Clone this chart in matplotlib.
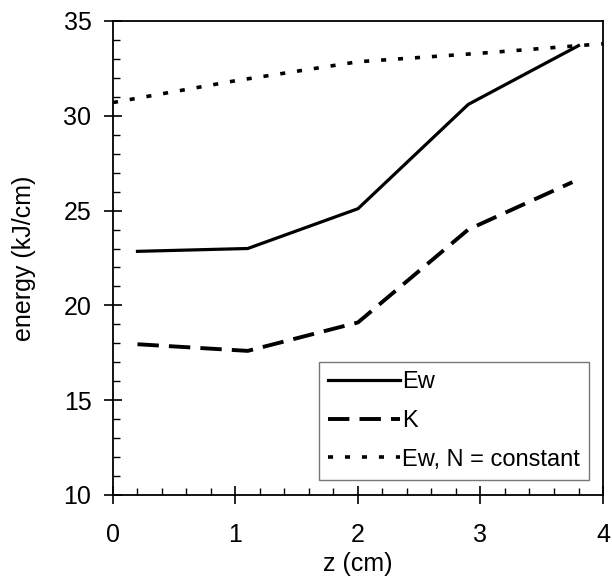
import matplotlib
matplotlib.use("Agg")
import matplotlib.pyplot as plt
from matplotlib.ticker import MultipleLocator

plt.rcParams['font.family'] = ['Liberation Sans', 'DejaVu Sans']

z = [0.2, 1.1, 2.0, 2.9, 3.8]
ew = [22.85, 23.0, 25.1, 30.6, 33.7]
z_k = [0.2, 1.1, 2.0, 2.9, 3.75]
k = [17.95, 17.6, 19.1, 24.0, 26.5]
z_n = [0.0, 1.0, 2.0, 3.0, 4.0]
ew_n = [30.7, 31.85, 32.85, 33.3, 33.8]

fig = plt.figure(figsize=(6.12, 5.8), dpi=100)
ax = fig.add_axes([0.1846, 0.1466, 0.8007, 0.8172])

ax.plot(z, ew, color='black', lw=2.3, label='Ew', solid_joinstyle='round')
ax.plot(z_k, k, color='black', lw=2.8, dashes=(5.5, 2.6), label='K')
ax.plot(z_n, ew_n, color='black', lw=2.6, dashes=(1.4, 3.3), label='Ew, N = constant')

ax.set_xlim(0, 4)
ax.set_ylim(10, 35)
ax.xaxis.set_major_locator(MultipleLocator(1))
ax.xaxis.set_minor_locator(MultipleLocator(0.2))
ax.yaxis.set_major_locator(MultipleLocator(5))
ax.yaxis.set_minor_locator(MultipleLocator(1))
ax.tick_params(which='major', direction='inout', length=13, width=1.2, labelsize=18, pad=9)
ax.tick_params(which='minor', direction='in', length=5, width=1.0)
ax.tick_params(axis='x', which='major', pad=14)
for s in ax.spines.values():
    s.set_linewidth(1.3)

ax.set_xlabel('z (cm)', fontsize=18, labelpad=3)
ax.set_ylabel('energy (kJ/cm)', fontsize=18, labelpad=20)

leg = ax.legend(loc='lower right', bbox_to_anchor=(0.9714, 0.0316), fontsize=17,
                handlelength=3.05, handletextpad=0.05, labelspacing=0.7,
                borderpad=0.4, borderaxespad=0.0, frameon=True, fancybox=False)
leg.get_frame().set_edgecolor('#555555')
leg.get_frame().set_linewidth(1.0)

fig.savefig('out.png', dpi=100)
